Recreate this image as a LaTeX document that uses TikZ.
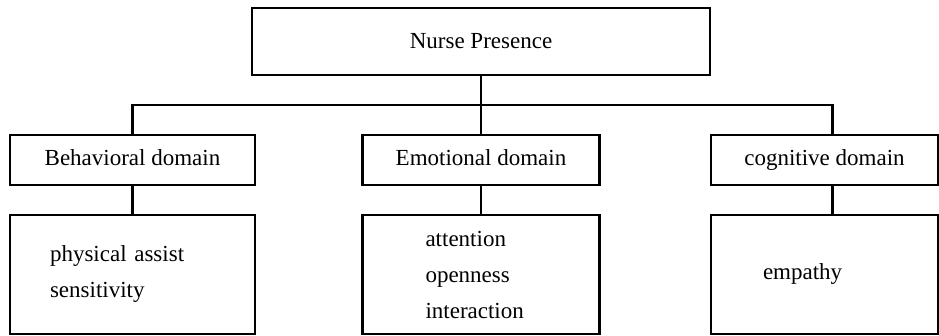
\documentclass[tikz,border=0pt]{standalone}
\usepackage{fontspec}
\setmainfont{Liberation Serif}
\usetikzlibrary{positioning}
\pgfdeclarelayer{edgelayer}
\pgfdeclarelayer{nodelayer}
\pgfsetlayers{edgelayer,nodelayer,main}
\tikzset{every picture/.style={line width=2.6pt}}
\tikzstyle{topbox}=[rectangle,fill=white,draw=black,line width=2.6pt,minimum width=458pt,minimum height=67pt,inner sep=0pt,font=\fontsize{23}{36}\selectfont]
\tikzstyle{domainbox}=[rectangle,fill=white,draw=black,line width=2.6pt,minimum height=50pt,inner sep=0pt,text height=16pt,text depth=5pt,font=\fontsize{23}{36}\selectfont]
\tikzstyle{itembox}=[rectangle,fill=white,draw=black,line width=2.6pt,minimum height=119pt,inner ysep=0pt,align=left,font=\fontsize{23}{36}\selectfont]
\tikzstyle{link}=[line width=2.6pt]

\begin{document}
\begin{tikzpicture}[x=1pt,y=-1pt]
	\useasboundingbox (0,0) rectangle (939,336);
	\begin{pgfonlayer}{nodelayer}
		\node [style=topbox] (NP) at (481,41.5) {Nurse Presence};
		\node [style=domainbox, minimum width=245pt] (Beh) at (132.5,160) {Behavioral domain};
		\node [style=domainbox, minimum width=237pt] (Emo) at (481,160) {Emotional domain};
		\node [style=domainbox, minimum width=227pt] (Cog) at (824.5,160) {cognitive domain};
		\node [style=itembox, text width=165pt, inner xsep=40pt] (BehItems) at (132.5,274.5) {physical assist\\sensitivity};
		\node [style=itembox, text width=111pt, inner xsep=63pt] (EmoItems) at (481,274.5) {attention\\openness\\interaction};
		\node [style=itembox, text width=123pt, inner xsep=52pt] (CogItems) at (824.5,274.5) {empathy};
		\coordinate (bar) at (481,105);
	\end{pgfonlayer}
	\begin{pgfonlayer}{edgelayer}
		\draw [style=link] (NP) to (Emo);
		\draw [style=link] (Beh.north) |- (bar) -| ([xshift=8pt]Cog.north);
		\draw [style=link] (Beh) to (BehItems);
		\draw [style=link] (Emo) to (EmoItems);
		\draw [style=link] ([xshift=8pt]Cog.south) to ([xshift=8pt]CogItems.north);
	\end{pgfonlayer}
\end{tikzpicture}
\end{document}
